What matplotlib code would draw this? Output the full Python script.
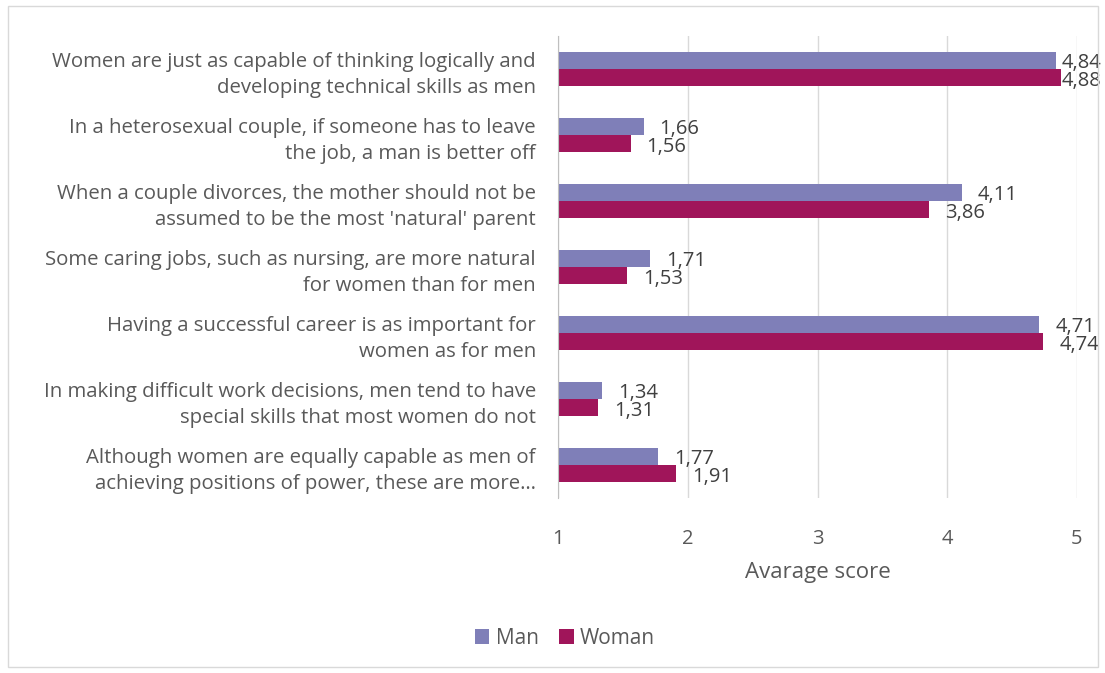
import matplotlib.pyplot as plt
from matplotlib.patches import Rectangle
import numpy as np

categories = [
    "Women are just as capable of thinking logically and\ndeveloping technical skills as men",
    "In a heterosexual couple, if someone has to leave\nthe job, a man is better off",
    "When a couple divorces, the mother should not be\nassumed to be the most 'natural' parent",
    "Some caring jobs, such as nursing, are more natural\nfor women than for men",
    "Having a successful career is as important for\nwomen as for men",
    "In making difficult work decisions, men tend to have\nspecial skills that most women do not",
    "Although women are equally capable as men of\nachieving positions of power, these are more\u2026",
]
man = [4.84, 1.66, 4.11, 1.71, 4.71, 1.34, 1.77]
woman = [4.88, 1.56, 3.86, 1.53, 4.74, 1.31, 1.91]

plt.rcParams['font.family'] = ['Open Sans', 'DejaVu Sans']
text_col = '#595959'
man_col = '#7f7fb8'
woman_col = '#a0155a'

W, H = 1105, 673
fig = plt.figure(figsize=(W / 100, H / 100), dpi=100)
ax = fig.add_axes([558 / W, 1 - 498 / H, (1077 - 558) / W, (498 - 36) / H])

y = np.arange(len(categories))
h = 0.265
ax.barh(y - h / 2, [m - 1 for m in man], left=1, height=h, color=man_col, label='Man')
ax.barh(y + h / 2, [w - 1 for w in woman], left=1, height=h, color=woman_col, label='Woman')

labels = []
for i in range(len(categories)):
    for val, yy in [(man[i], y[i] - h / 2), (woman[i], y[i] + h / 2)]:
        t = ax.annotate(f"{val:.2f}".replace('.', ','), xy=(val, yy), xytext=(16, -3),
                        textcoords='offset pixels', va='center', ha='left',
                        fontsize=14.5, color='#404040', annotation_clip=False)
        labels.append(t)

ax.set_xlim(1, 5)
ax.set_ylim(len(categories) - 0.5, -0.5)
ax.set_xticks([1, 2, 3, 4, 5])
ax.set_yticks(y)
ax.set_yticklabels(categories, fontsize=14.7, color=text_col, ha='right', linespacing=1.45)
ax.tick_params(axis='x', colors=text_col, labelsize=14.5, length=0, pad=22)
ax.tick_params(axis='y', length=0, pad=16)
ax.xaxis.grid(True, color='#d9d9d9', linewidth=1)
ax.set_axisbelow(True)
for s in ['top', 'right', 'bottom']:
    ax.spines[s].set_visible(False)
ax.spines['left'].set_color('#bfbfbf')
ax.set_xlabel('Avarage score', fontsize=16, color=text_col, labelpad=10)

fig.legend(loc='center', bbox_to_anchor=(565 / W, 1 - 638 / H), ncol=2, frameon=False,
           fontsize=15, labelcolor=text_col, handlelength=0.7, handleheight=0.7,
           columnspacing=1.0, handletextpad=0.3)

fig.patches.append(Rectangle((8 / W, 6 / H), 1090 / W, 661 / H, transform=fig.transFigure,
                             fill=False, edgecolor='#d9d9d9', linewidth=1))

# keep value labels inside the chart area, like Excel does
fig.canvas.draw()
r = fig.canvas.get_renderer()
for t in labels:
    bb = t.get_window_extent(r)
    if bb.x1 > W - 4:
        t.xyann = (t.xyann[0] - (bb.x1 - (W - 4)), t.xyann[1])

fig.savefig('out.png', dpi=100)
